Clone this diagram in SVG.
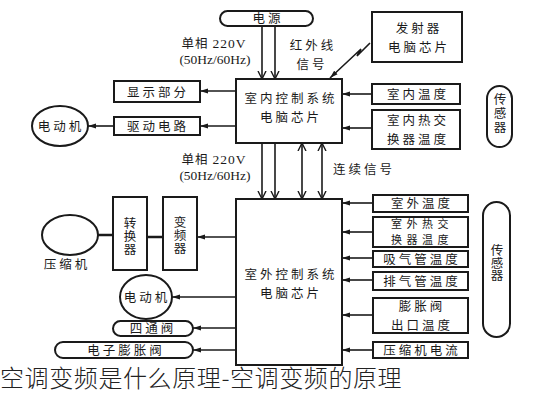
<svg xmlns="http://www.w3.org/2000/svg" width="536" height="400" viewBox="0 0 536 400">
<style>
.b{fill:#fff;stroke:#1a1a1a;stroke-width:2}
.l{fill:none;stroke:#1a1a1a;stroke-width:1.6}
.t{font-family:"Noto Sans CJK SC","Noto Sans CJK TC",sans-serif;font-size:12.5px;fill:#1a1a1a;text-anchor:middle;letter-spacing:3px}
.n{font-family:"Liberation Serif","DejaVu Serif",serif;font-size:13.5px;fill:#1a1a1a;text-anchor:middle}
.v{font-family:"Noto Sans CJK SC",sans-serif;font-size:12.5px;fill:#1a1a1a;text-anchor:middle;writing-mode:vertical-rl}
.cap{font-family:"Noto Sans CJK SC","Noto Sans CJK JP",sans-serif;font-size:24px;fill:#222;font-weight:300}
</style>
<defs>
<marker id="fa" markerWidth="8" markerHeight="6" refX="8" refY="3" orient="auto" markerUnits="userSpaceOnUse">
<path d="M0,0.5 L8,3 L0,5.5 z" fill="#1a1a1a"/>
</marker>
<marker id="oa" markerWidth="10" markerHeight="10" refX="8" refY="5" orient="auto" markerUnits="userSpaceOnUse">
<path d="M0,1 L8,5 L0,9" fill="none" stroke="#1a1a1a" stroke-width="1.4"/>
</marker>
<marker id="oas" markerWidth="10" markerHeight="10" refX="2" refY="5" orient="auto" markerUnits="userSpaceOnUse">
<path d="M10,1 L2,5 L10,9" fill="none" stroke="#1a1a1a" stroke-width="1.4"/>
</marker>
</defs>
<rect width="536" height="400" fill="#fff"/>

<g id="connectors">
<line class="l" x1="262" y1="26" x2="262" y2="79" marker-end="url(#oa)"/>
<line class="l" x1="275" y1="26" x2="275" y2="79" marker-end="url(#oa)"/>
<polyline class="l" points="370,43 357,56 361,49 330,78" marker-end="url(#fa)"/>
<line class="l" x1="236" y1="91" x2="200" y2="91" marker-end="url(#fa)"/>
<line class="l" x1="236" y1="126" x2="200" y2="126" marker-end="url(#fa)"/>
<line class="l" x1="114" y1="126" x2="88" y2="126" marker-end="url(#fa)"/>
<line class="l" x1="372" y1="94" x2="342" y2="94" marker-end="url(#fa)"/>
<line class="l" x1="372" y1="128" x2="342" y2="128" marker-end="url(#fa)"/>
<line class="l" x1="262" y1="143" x2="262" y2="199" marker-end="url(#oa)"/>
<line class="l" x1="275" y1="143" x2="275" y2="199" marker-end="url(#oa)"/>
<line class="l" x1="302" y1="143" x2="302" y2="199" marker-start="url(#oas)" marker-end="url(#oa)"/>
<line class="l" x1="322" y1="143" x2="322" y2="199" marker-start="url(#oas)" marker-end="url(#oa)"/>
<line class="l" x1="236" y1="237" x2="197" y2="237" marker-end="url(#fa)"/>
<line x1="147" y1="237" x2="163" y2="237" stroke="#1a1a1a" stroke-width="2.5"/>
<line x1="98" y1="235" x2="113" y2="235" stroke="#1a1a1a" stroke-width="2.5"/>
<line class="l" x1="236" y1="297" x2="172" y2="297" marker-end="url(#fa)"/>
<line class="l" x1="236" y1="328" x2="193" y2="328" marker-end="url(#fa)"/>
<line class="l" x1="236" y1="350" x2="193" y2="350" marker-end="url(#fa)"/>
<line class="l" x1="373" y1="203" x2="342" y2="203" marker-end="url(#fa)"/>
<line class="l" x1="373" y1="232" x2="342" y2="232" marker-end="url(#fa)"/>
<line class="l" x1="373" y1="258" x2="342" y2="258" marker-end="url(#fa)"/>
<line class="l" x1="373" y1="280" x2="342" y2="280" marker-end="url(#fa)"/>
<line class="l" x1="373" y1="315" x2="342" y2="315" marker-end="url(#fa)"/>
<line class="l" x1="373" y1="350" x2="342" y2="350" marker-end="url(#fa)"/>
</g>

<g id="labels">
<text class="t" x="214" y="48" style="letter-spacing:1px">单相 <tspan class="n">220V</tspan><tspan class="n" x="215" y="64" style="letter-spacing:0">(50Hz/60Hz)</tspan></text>
<text class="t" x="313" y="50">红外线<tspan x="312" y="69">信号</tspan></text>
<text class="t" x="214" y="164" style="letter-spacing:1px">单相 <tspan class="n">220V</tspan><tspan class="n" x="215" y="180" style="letter-spacing:0">(50Hz/60Hz)</tspan></text>
<text class="t" x="364" y="174">连续信号</text>
</g>

<g id="power">
<rect class="b" x="220" y="11" width="93" height="15" rx="7.5"/>
<text class="t" x="268" y="23">电源</text>
</g>
<g id="indoor-chip">
<rect class="b" x="236" y="79" width="106" height="64"/>
<text class="t" x="291" y="103">室内控制系统<tspan x="291" y="122">电脑芯片</tspan></text>
</g>
<g id="ir-sender">
<rect class="b" x="372" y="12" width="90" height="50"/>
<text class="t" x="419" y="33">发射器<tspan x="419" y="52">电脑芯片</tspan></text>
</g>
<g id="display">
<rect class="b" x="114" y="81" width="86" height="21"/>
<text class="t" x="158" y="97">显示部分</text>
</g>
<g id="drive">
<rect class="b" x="114" y="117" width="86" height="18"/>
<text class="t" x="158" y="131">驱动电路</text>
</g>
<g id="indoor-motor">
<ellipse class="b" cx="60" cy="126" rx="28" ry="20"/>
<text class="t" x="61" y="131">电动机</text>
</g>
<g id="indoor-temp">
<rect class="b" x="372" y="84" width="88" height="20"/>
<text class="t" x="418" y="99">室内温度</text>
</g>
<g id="indoor-hx-temp">
<rect class="b" x="372" y="110" width="88" height="39"/>
<text class="t" x="418" y="125">室内热交<tspan x="418" y="144">换器温度</tspan></text>
</g>
<g id="indoor-sensor">
<rect class="b" x="487" y="86" width="25" height="61" rx="12.5"/>
<text class="v" x="500" y="114" style="letter-spacing:1.5px">传感器</text>
</g>

<g id="outdoor-chip">
<rect class="b" x="236" y="199" width="106" height="166"/>
<text class="t" x="291" y="279">室外控制系统<tspan x="291" y="298">电脑芯片</tspan></text>
</g>
<g id="inverter">
<rect class="b" x="163" y="197" width="34" height="73"/>
<text class="v" x="180" y="235" style="letter-spacing:0.5px">变频器</text>
</g>
<g id="converter">
<rect class="b" x="113" y="197" width="34" height="73"/>
<text class="v" x="130" y="236" style="letter-spacing:0.5px">转换器</text>
</g>
<g id="compressor">
<ellipse class="b" cx="70" cy="235" rx="28" ry="20"/>
<text class="t" x="67" y="269">压缩机</text>
</g>
<g id="outdoor-motor">
<ellipse class="b" cx="146" cy="297" rx="26" ry="22"/>
<text class="t" x="147" y="302">电动机</text>
</g>
<g id="four-way-valve">
<rect class="b" x="113" y="321" width="80" height="15" rx="7.5"/>
<text class="t" x="153" y="333">四通阀</text>
</g>
<g id="eev">
<rect class="b" x="55" y="342" width="138" height="16" rx="8"/>
<text class="t" x="126" y="355">电子膨胀阀</text>
</g>

<g id="outdoor-temp">
<rect class="b" x="373" y="195" width="95" height="17"/>
<text class="t" x="422" y="208">室外温度</text>
</g>
<g id="outdoor-hx-temp">
<rect class="b" x="373" y="217" width="95" height="30"/>
<text class="t" x="422" y="228" style="font-size:11px;letter-spacing:4.5px">室外热交<tspan x="422" y="244">换器温度</tspan></text>
</g>
<g id="suction-temp">
<rect class="b" x="373" y="251" width="95" height="16"/>
<text class="t" x="422" y="264">吸气管温度</text>
</g>
<g id="discharge-temp">
<rect class="b" x="373" y="272" width="95" height="18"/>
<text class="t" x="422" y="286">排气管温度</text>
</g>
<g id="eev-outlet-temp">
<rect class="b" x="373" y="298" width="95" height="35"/>
<text class="t" x="422" y="311">膨胀阀<tspan x="422" y="330">出口温度</tspan></text>
</g>
<g id="compressor-current">
<rect class="b" x="373" y="342" width="95" height="16"/>
<text class="t" x="422" y="355">压缩机电流</text>
</g>
<g id="outdoor-sensor">
<rect class="b" x="483" y="202" width="27" height="135" rx="13.5"/>
<text class="v" x="497" y="263">传感器</text>
</g>

<text class="cap" x="0" y="387" style="letter-spacing:0.6px">空调变频是什么原理-空调变频的原理</text>
</svg>
